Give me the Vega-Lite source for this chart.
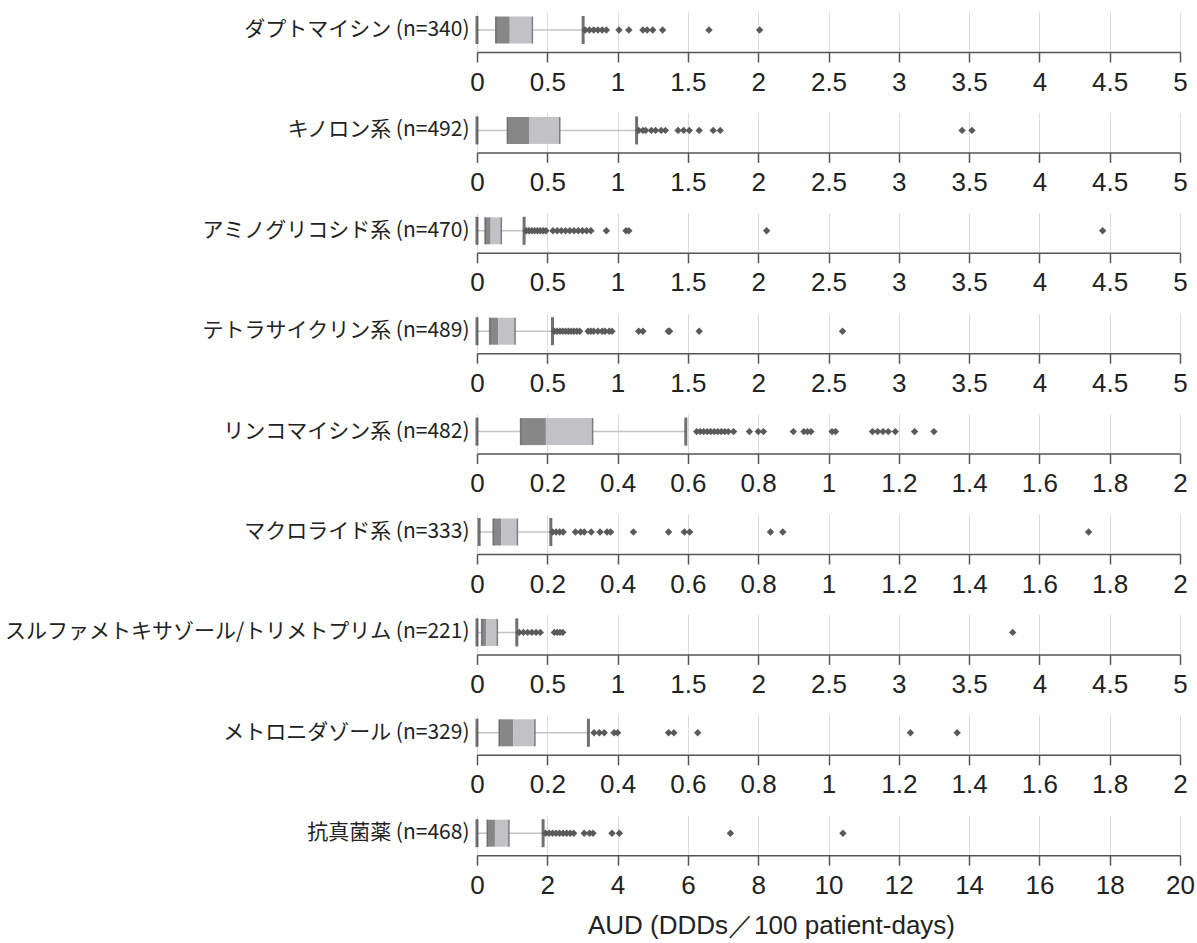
{
  "$schema": "https://vega.github.io/schema/vega-lite/v6.json",
  "background": "white",
  "padding": {"left": 4, "top": 12, "right": 10, "bottom": 5},
  "spacing": 17.4,
  "datasets": {
    "boxes": [
      {"panel": 1, "label": "ダプトマイシン (n=340)", "min": 0, "q1": 0.133, "median": 0.233, "q3": 0.394, "max": 0.755},
      {"panel": 2, "label": "キノロン系 (n=492)", "min": 0, "q1": 0.216, "median": 0.37, "q3": 0.589, "max": 1.135},
      {"panel": 3, "label": "アミノグリコシド系 (n=470)", "min": 0, "q1": 0.057, "median": 0.097, "q3": 0.173, "max": 0.335},
      {"panel": 4, "label": "テトラサイクリン系 (n=489)", "min": 0, "q1": 0.09, "median": 0.152, "q3": 0.271, "max": 0.537},
      {"panel": 5, "label": "リンコマイシン系 (n=482)", "min": 0, "q1": 0.124, "median": 0.196, "q3": 0.329, "max": 0.594},
      {"panel": 6, "label": "マクロライド系 (n=333)", "min": 0.006, "q1": 0.046, "median": 0.069, "q3": 0.115, "max": 0.21},
      {"panel": 7, "label": "スルファメトキサゾール/トリメトプリム (n=221)", "min": 0, "q1": 0.033, "median": 0.066, "q3": 0.145, "max": 0.283},
      {"panel": 8, "label": "メトロニダゾール (n=329)", "min": 0, "q1": 0.063, "median": 0.103, "q3": 0.165, "max": 0.317},
      {"panel": 9, "label": "抗真菌薬 (n=468)", "min": 0, "q1": 0.29, "median": 0.51, "q3": 0.91, "max": 1.88}
    ],
    "outliers": [
      {"panel": 1, "value": 0.77}, {"panel": 1, "value": 0.8}, {"panel": 1, "value": 0.83}, {"panel": 1, "value": 0.86}, {"panel": 1, "value": 0.89}, {"panel": 1, "value": 0.92}, {"panel": 1, "value": 1.01}, {"panel": 1, "value": 1.08}, {"panel": 1, "value": 1.18}, {"panel": 1, "value": 1.21}, {"panel": 1, "value": 1.25}, {"panel": 1, "value": 1.32}, {"panel": 1, "value": 1.65}, {"panel": 1, "value": 2.01},
      {"panel": 2, "value": 1.15}, {"panel": 2, "value": 1.18}, {"panel": 2, "value": 1.2}, {"panel": 2, "value": 1.24}, {"panel": 2, "value": 1.27}, {"panel": 2, "value": 1.31}, {"panel": 2, "value": 1.34}, {"panel": 2, "value": 1.43}, {"panel": 2, "value": 1.47}, {"panel": 2, "value": 1.51}, {"panel": 2, "value": 1.58}, {"panel": 2, "value": 1.68}, {"panel": 2, "value": 1.73}, {"panel": 2, "value": 3.45}, {"panel": 2, "value": 3.52},
      {"panel": 3, "value": 0.35}, {"panel": 3, "value": 0.37}, {"panel": 3, "value": 0.39}, {"panel": 3, "value": 0.41}, {"panel": 3, "value": 0.43}, {"panel": 3, "value": 0.45}, {"panel": 3, "value": 0.47}, {"panel": 3, "value": 0.49}, {"panel": 3, "value": 0.54}, {"panel": 3, "value": 0.57}, {"panel": 3, "value": 0.6}, {"panel": 3, "value": 0.63}, {"panel": 3, "value": 0.66}, {"panel": 3, "value": 0.69}, {"panel": 3, "value": 0.72}, {"panel": 3, "value": 0.75}, {"panel": 3, "value": 0.78}, {"panel": 3, "value": 0.81}, {"panel": 3, "value": 0.92}, {"panel": 3, "value": 1.06}, {"panel": 3, "value": 1.08}, {"panel": 3, "value": 2.06}, {"panel": 3, "value": 4.45},
      {"panel": 4, "value": 0.55}, {"panel": 4, "value": 0.57}, {"panel": 4, "value": 0.59}, {"panel": 4, "value": 0.61}, {"panel": 4, "value": 0.63}, {"panel": 4, "value": 0.65}, {"panel": 4, "value": 0.67}, {"panel": 4, "value": 0.69}, {"panel": 4, "value": 0.71}, {"panel": 4, "value": 0.73}, {"panel": 4, "value": 0.79}, {"panel": 4, "value": 0.81}, {"panel": 4, "value": 0.83}, {"panel": 4, "value": 0.86}, {"panel": 4, "value": 0.89}, {"panel": 4, "value": 0.91}, {"panel": 4, "value": 0.94}, {"panel": 4, "value": 0.96}, {"panel": 4, "value": 1.15}, {"panel": 4, "value": 1.18}, {"panel": 4, "value": 1.36}, {"panel": 4, "value": 1.37}, {"panel": 4, "value": 1.58}, {"panel": 4, "value": 2.6},
      {"panel": 5, "value": 0.625}, {"panel": 5, "value": 0.635}, {"panel": 5, "value": 0.645}, {"panel": 5, "value": 0.655}, {"panel": 5, "value": 0.665}, {"panel": 5, "value": 0.675}, {"panel": 5, "value": 0.685}, {"panel": 5, "value": 0.695}, {"panel": 5, "value": 0.705}, {"panel": 5, "value": 0.715}, {"panel": 5, "value": 0.73}, {"panel": 5, "value": 0.775}, {"panel": 5, "value": 0.8}, {"panel": 5, "value": 0.815}, {"panel": 5, "value": 0.9}, {"panel": 5, "value": 0.93}, {"panel": 5, "value": 0.94}, {"panel": 5, "value": 0.95}, {"panel": 5, "value": 1.01}, {"panel": 5, "value": 1.02}, {"panel": 5, "value": 1.125}, {"panel": 5, "value": 1.14}, {"panel": 5, "value": 1.155}, {"panel": 5, "value": 1.17}, {"panel": 5, "value": 1.19}, {"panel": 5, "value": 1.245}, {"panel": 5, "value": 1.3},
      {"panel": 6, "value": 0.215}, {"panel": 6, "value": 0.225}, {"panel": 6, "value": 0.235}, {"panel": 6, "value": 0.245}, {"panel": 6, "value": 0.28}, {"panel": 6, "value": 0.295}, {"panel": 6, "value": 0.305}, {"panel": 6, "value": 0.325}, {"panel": 6, "value": 0.35}, {"panel": 6, "value": 0.37}, {"panel": 6, "value": 0.38}, {"panel": 6, "value": 0.445}, {"panel": 6, "value": 0.545}, {"panel": 6, "value": 0.59}, {"panel": 6, "value": 0.605}, {"panel": 6, "value": 0.835}, {"panel": 6, "value": 0.87}, {"panel": 6, "value": 1.74},
      {"panel": 7, "value": 0.3}, {"panel": 7, "value": 0.33}, {"panel": 7, "value": 0.36}, {"panel": 7, "value": 0.39}, {"panel": 7, "value": 0.42}, {"panel": 7, "value": 0.45}, {"panel": 7, "value": 0.55}, {"panel": 7, "value": 0.57}, {"panel": 7, "value": 0.59}, {"panel": 7, "value": 0.61}, {"panel": 7, "value": 3.81},
      {"panel": 8, "value": 0.333}, {"panel": 8, "value": 0.348}, {"panel": 8, "value": 0.362}, {"panel": 8, "value": 0.39}, {"panel": 8, "value": 0.4}, {"panel": 8, "value": 0.545}, {"panel": 8, "value": 0.56}, {"panel": 8, "value": 0.628}, {"panel": 8, "value": 1.233}, {"panel": 8, "value": 1.366},
      {"panel": 9, "value": 1.95}, {"panel": 9, "value": 2.05}, {"panel": 9, "value": 2.15}, {"panel": 9, "value": 2.25}, {"panel": 9, "value": 2.35}, {"panel": 9, "value": 2.45}, {"panel": 9, "value": 2.55}, {"panel": 9, "value": 2.65}, {"panel": 9, "value": 2.75}, {"panel": 9, "value": 3.05}, {"panel": 9, "value": 3.2}, {"panel": 9, "value": 3.3}, {"panel": 9, "value": 3.84}, {"panel": 9, "value": 4.05}, {"panel": 9, "value": 7.21}, {"panel": 9, "value": 10.41}
    ]
  },
  "vconcat": [
    {"width": 703, "height": 40, "layer": [
      {"data": {"name": "boxes"}, "transform": [{"filter": "datum.panel == 1"}], "layer": [
        {"mark": {"type": "rule", "color": "#c4c4c4", "strokeWidth": 1.5}, "encoding": {"x": {"field": "min", "type": "quantitative", "scale": {"domain": [0, 5], "nice": false}, "title": null}, "x2": {"field": "max"}, "y": {"field": "label", "type": "nominal", "title": null, "scale": {"paddingInner": 0, "paddingOuter": 0.5, "align": 0.4}}}},
        {"mark": {"type": "bar", "color": "#878787", "size": 27}, "encoding": {"x": {"field": "q1", "type": "quantitative", "title": null}, "x2": {"field": "median"}, "y": {"field": "label", "type": "nominal", "title": null}}},
        {"mark": {"type": "bar", "color": "#c2c2c6", "size": 27}, "encoding": {"x": {"field": "median", "type": "quantitative", "title": null}, "x2": {"field": "q3"}, "y": {"field": "label", "type": "nominal", "title": null}}},
        {"transform": [{"fold": ["q1", "q3"], "as": ["stat", "v"]}], "mark": {"type": "tick", "color": "#555555", "thickness": 1.5, "size": 27}, "encoding": {"x": {"field": "v", "type": "quantitative", "title": null}, "y": {"field": "label", "type": "nominal", "title": null}}},
        {"transform": [{"fold": ["min", "max"], "as": ["stat", "v"]}], "mark": {"type": "tick", "color": "#333333", "thickness": 3, "size": 28}, "encoding": {"x": {"field": "v", "type": "quantitative", "title": null}, "y": {"field": "label", "type": "nominal", "title": null}}}
      ]},
      {"data": {"name": "outliers"}, "transform": [{"filter": "datum.panel == 1"}, {"lookup": "panel", "from": {"data": {"name": "boxes"}, "key": "panel", "fields": ["label"]}}], "mark": {"type": "point", "shape": "diamond", "filled": true, "color": "#5a5a5a", "size": 55, "opacity": 1}, "encoding": {"x": {"field": "value", "type": "quantitative", "title": null}, "y": {"field": "label", "type": "nominal", "title": null}}}
    ]},
    {"width": 703, "height": 40, "layer": [
      {"data": {"name": "boxes"}, "transform": [{"filter": "datum.panel == 2"}], "layer": [
        {"mark": {"type": "rule", "color": "#c4c4c4", "strokeWidth": 1.5}, "encoding": {"x": {"field": "min", "type": "quantitative", "scale": {"domain": [0, 5], "nice": false}, "title": null}, "x2": {"field": "max"}, "y": {"field": "label", "type": "nominal", "title": null, "scale": {"paddingInner": 0, "paddingOuter": 0.5, "align": 0.4}}}},
        {"mark": {"type": "bar", "color": "#878787", "size": 27}, "encoding": {"x": {"field": "q1", "type": "quantitative", "title": null}, "x2": {"field": "median"}, "y": {"field": "label", "type": "nominal", "title": null}}},
        {"mark": {"type": "bar", "color": "#c2c2c6", "size": 27}, "encoding": {"x": {"field": "median", "type": "quantitative", "title": null}, "x2": {"field": "q3"}, "y": {"field": "label", "type": "nominal", "title": null}}},
        {"transform": [{"fold": ["q1", "q3"], "as": ["stat", "v"]}], "mark": {"type": "tick", "color": "#555555", "thickness": 1.5, "size": 27}, "encoding": {"x": {"field": "v", "type": "quantitative", "title": null}, "y": {"field": "label", "type": "nominal", "title": null}}},
        {"transform": [{"fold": ["min", "max"], "as": ["stat", "v"]}], "mark": {"type": "tick", "color": "#333333", "thickness": 3, "size": 28}, "encoding": {"x": {"field": "v", "type": "quantitative", "title": null}, "y": {"field": "label", "type": "nominal", "title": null}}}
      ]},
      {"data": {"name": "outliers"}, "transform": [{"filter": "datum.panel == 2"}, {"lookup": "panel", "from": {"data": {"name": "boxes"}, "key": "panel", "fields": ["label"]}}], "mark": {"type": "point", "shape": "diamond", "filled": true, "color": "#5a5a5a", "size": 55, "opacity": 1}, "encoding": {"x": {"field": "value", "type": "quantitative", "title": null}, "y": {"field": "label", "type": "nominal", "title": null}}}
    ]},
    {"width": 703, "height": 40, "layer": [
      {"data": {"name": "boxes"}, "transform": [{"filter": "datum.panel == 3"}], "layer": [
        {"mark": {"type": "rule", "color": "#c4c4c4", "strokeWidth": 1.5}, "encoding": {"x": {"field": "min", "type": "quantitative", "scale": {"domain": [0, 5], "nice": false}, "title": null}, "x2": {"field": "max"}, "y": {"field": "label", "type": "nominal", "title": null, "scale": {"paddingInner": 0, "paddingOuter": 0.5, "align": 0.4}}}},
        {"mark": {"type": "bar", "color": "#878787", "size": 27}, "encoding": {"x": {"field": "q1", "type": "quantitative", "title": null}, "x2": {"field": "median"}, "y": {"field": "label", "type": "nominal", "title": null}}},
        {"mark": {"type": "bar", "color": "#c2c2c6", "size": 27}, "encoding": {"x": {"field": "median", "type": "quantitative", "title": null}, "x2": {"field": "q3"}, "y": {"field": "label", "type": "nominal", "title": null}}},
        {"transform": [{"fold": ["q1", "q3"], "as": ["stat", "v"]}], "mark": {"type": "tick", "color": "#555555", "thickness": 1.5, "size": 27}, "encoding": {"x": {"field": "v", "type": "quantitative", "title": null}, "y": {"field": "label", "type": "nominal", "title": null}}},
        {"transform": [{"fold": ["min", "max"], "as": ["stat", "v"]}], "mark": {"type": "tick", "color": "#333333", "thickness": 3, "size": 28}, "encoding": {"x": {"field": "v", "type": "quantitative", "title": null}, "y": {"field": "label", "type": "nominal", "title": null}}}
      ]},
      {"data": {"name": "outliers"}, "transform": [{"filter": "datum.panel == 3"}, {"lookup": "panel", "from": {"data": {"name": "boxes"}, "key": "panel", "fields": ["label"]}}], "mark": {"type": "point", "shape": "diamond", "filled": true, "color": "#5a5a5a", "size": 55, "opacity": 1}, "encoding": {"x": {"field": "value", "type": "quantitative", "title": null}, "y": {"field": "label", "type": "nominal", "title": null}}}
    ]},
    {"width": 703, "height": 40, "layer": [
      {"data": {"name": "boxes"}, "transform": [{"filter": "datum.panel == 4"}], "layer": [
        {"mark": {"type": "rule", "color": "#c4c4c4", "strokeWidth": 1.5}, "encoding": {"x": {"field": "min", "type": "quantitative", "scale": {"domain": [0, 5], "nice": false}, "title": null}, "x2": {"field": "max"}, "y": {"field": "label", "type": "nominal", "title": null, "scale": {"paddingInner": 0, "paddingOuter": 0.5, "align": 0.4}}}},
        {"mark": {"type": "bar", "color": "#878787", "size": 27}, "encoding": {"x": {"field": "q1", "type": "quantitative", "title": null}, "x2": {"field": "median"}, "y": {"field": "label", "type": "nominal", "title": null}}},
        {"mark": {"type": "bar", "color": "#c2c2c6", "size": 27}, "encoding": {"x": {"field": "median", "type": "quantitative", "title": null}, "x2": {"field": "q3"}, "y": {"field": "label", "type": "nominal", "title": null}}},
        {"transform": [{"fold": ["q1", "q3"], "as": ["stat", "v"]}], "mark": {"type": "tick", "color": "#555555", "thickness": 1.5, "size": 27}, "encoding": {"x": {"field": "v", "type": "quantitative", "title": null}, "y": {"field": "label", "type": "nominal", "title": null}}},
        {"transform": [{"fold": ["min", "max"], "as": ["stat", "v"]}], "mark": {"type": "tick", "color": "#333333", "thickness": 3, "size": 28}, "encoding": {"x": {"field": "v", "type": "quantitative", "title": null}, "y": {"field": "label", "type": "nominal", "title": null}}}
      ]},
      {"data": {"name": "outliers"}, "transform": [{"filter": "datum.panel == 4"}, {"lookup": "panel", "from": {"data": {"name": "boxes"}, "key": "panel", "fields": ["label"]}}], "mark": {"type": "point", "shape": "diamond", "filled": true, "color": "#5a5a5a", "size": 55, "opacity": 1}, "encoding": {"x": {"field": "value", "type": "quantitative", "title": null}, "y": {"field": "label", "type": "nominal", "title": null}}}
    ]},
    {"width": 703, "height": 40, "layer": [
      {"data": {"name": "boxes"}, "transform": [{"filter": "datum.panel == 5"}], "layer": [
        {"mark": {"type": "rule", "color": "#c4c4c4", "strokeWidth": 1.5}, "encoding": {"x": {"field": "min", "type": "quantitative", "scale": {"domain": [0, 2], "nice": false}, "title": null}, "x2": {"field": "max"}, "y": {"field": "label", "type": "nominal", "title": null, "scale": {"paddingInner": 0, "paddingOuter": 0.5, "align": 0.4}}}},
        {"mark": {"type": "bar", "color": "#878787", "size": 27}, "encoding": {"x": {"field": "q1", "type": "quantitative", "title": null}, "x2": {"field": "median"}, "y": {"field": "label", "type": "nominal", "title": null}}},
        {"mark": {"type": "bar", "color": "#c2c2c6", "size": 27}, "encoding": {"x": {"field": "median", "type": "quantitative", "title": null}, "x2": {"field": "q3"}, "y": {"field": "label", "type": "nominal", "title": null}}},
        {"transform": [{"fold": ["q1", "q3"], "as": ["stat", "v"]}], "mark": {"type": "tick", "color": "#555555", "thickness": 1.5, "size": 27}, "encoding": {"x": {"field": "v", "type": "quantitative", "title": null}, "y": {"field": "label", "type": "nominal", "title": null}}},
        {"transform": [{"fold": ["min", "max"], "as": ["stat", "v"]}], "mark": {"type": "tick", "color": "#333333", "thickness": 3, "size": 28}, "encoding": {"x": {"field": "v", "type": "quantitative", "title": null}, "y": {"field": "label", "type": "nominal", "title": null}}}
      ]},
      {"data": {"name": "outliers"}, "transform": [{"filter": "datum.panel == 5"}, {"lookup": "panel", "from": {"data": {"name": "boxes"}, "key": "panel", "fields": ["label"]}}], "mark": {"type": "point", "shape": "diamond", "filled": true, "color": "#5a5a5a", "size": 55, "opacity": 1}, "encoding": {"x": {"field": "value", "type": "quantitative", "title": null}, "y": {"field": "label", "type": "nominal", "title": null}}}
    ]},
    {"width": 703, "height": 40, "layer": [
      {"data": {"name": "boxes"}, "transform": [{"filter": "datum.panel == 6"}], "layer": [
        {"mark": {"type": "rule", "color": "#c4c4c4", "strokeWidth": 1.5}, "encoding": {"x": {"field": "min", "type": "quantitative", "scale": {"domain": [0, 2], "nice": false}, "title": null}, "x2": {"field": "max"}, "y": {"field": "label", "type": "nominal", "title": null, "scale": {"paddingInner": 0, "paddingOuter": 0.5, "align": 0.4}}}},
        {"mark": {"type": "bar", "color": "#878787", "size": 27}, "encoding": {"x": {"field": "q1", "type": "quantitative", "title": null}, "x2": {"field": "median"}, "y": {"field": "label", "type": "nominal", "title": null}}},
        {"mark": {"type": "bar", "color": "#c2c2c6", "size": 27}, "encoding": {"x": {"field": "median", "type": "quantitative", "title": null}, "x2": {"field": "q3"}, "y": {"field": "label", "type": "nominal", "title": null}}},
        {"transform": [{"fold": ["q1", "q3"], "as": ["stat", "v"]}], "mark": {"type": "tick", "color": "#555555", "thickness": 1.5, "size": 27}, "encoding": {"x": {"field": "v", "type": "quantitative", "title": null}, "y": {"field": "label", "type": "nominal", "title": null}}},
        {"transform": [{"fold": ["min", "max"], "as": ["stat", "v"]}], "mark": {"type": "tick", "color": "#333333", "thickness": 3, "size": 28}, "encoding": {"x": {"field": "v", "type": "quantitative", "title": null}, "y": {"field": "label", "type": "nominal", "title": null}}}
      ]},
      {"data": {"name": "outliers"}, "transform": [{"filter": "datum.panel == 6"}, {"lookup": "panel", "from": {"data": {"name": "boxes"}, "key": "panel", "fields": ["label"]}}], "mark": {"type": "point", "shape": "diamond", "filled": true, "color": "#5a5a5a", "size": 55, "opacity": 1}, "encoding": {"x": {"field": "value", "type": "quantitative", "title": null}, "y": {"field": "label", "type": "nominal", "title": null}}}
    ]},
    {"width": 703, "height": 40, "layer": [
      {"data": {"name": "boxes"}, "transform": [{"filter": "datum.panel == 7"}], "layer": [
        {"mark": {"type": "rule", "color": "#c4c4c4", "strokeWidth": 1.5}, "encoding": {"x": {"field": "min", "type": "quantitative", "scale": {"domain": [0, 5], "nice": false}, "title": null}, "x2": {"field": "max"}, "y": {"field": "label", "type": "nominal", "title": null, "scale": {"paddingInner": 0, "paddingOuter": 0.5, "align": 0.4}}}},
        {"mark": {"type": "bar", "color": "#878787", "size": 27}, "encoding": {"x": {"field": "q1", "type": "quantitative", "title": null}, "x2": {"field": "median"}, "y": {"field": "label", "type": "nominal", "title": null}}},
        {"mark": {"type": "bar", "color": "#c2c2c6", "size": 27}, "encoding": {"x": {"field": "median", "type": "quantitative", "title": null}, "x2": {"field": "q3"}, "y": {"field": "label", "type": "nominal", "title": null}}},
        {"transform": [{"fold": ["q1", "q3"], "as": ["stat", "v"]}], "mark": {"type": "tick", "color": "#555555", "thickness": 1.5, "size": 27}, "encoding": {"x": {"field": "v", "type": "quantitative", "title": null}, "y": {"field": "label", "type": "nominal", "title": null}}},
        {"transform": [{"fold": ["min", "max"], "as": ["stat", "v"]}], "mark": {"type": "tick", "color": "#333333", "thickness": 3, "size": 28}, "encoding": {"x": {"field": "v", "type": "quantitative", "title": null}, "y": {"field": "label", "type": "nominal", "title": null}}}
      ]},
      {"data": {"name": "outliers"}, "transform": [{"filter": "datum.panel == 7"}, {"lookup": "panel", "from": {"data": {"name": "boxes"}, "key": "panel", "fields": ["label"]}}], "mark": {"type": "point", "shape": "diamond", "filled": true, "color": "#5a5a5a", "size": 55, "opacity": 1}, "encoding": {"x": {"field": "value", "type": "quantitative", "title": null}, "y": {"field": "label", "type": "nominal", "title": null}}}
    ]},
    {"width": 703, "height": 40, "layer": [
      {"data": {"name": "boxes"}, "transform": [{"filter": "datum.panel == 8"}], "layer": [
        {"mark": {"type": "rule", "color": "#c4c4c4", "strokeWidth": 1.5}, "encoding": {"x": {"field": "min", "type": "quantitative", "scale": {"domain": [0, 2], "nice": false}, "title": null}, "x2": {"field": "max"}, "y": {"field": "label", "type": "nominal", "title": null, "scale": {"paddingInner": 0, "paddingOuter": 0.5, "align": 0.4}}}},
        {"mark": {"type": "bar", "color": "#878787", "size": 27}, "encoding": {"x": {"field": "q1", "type": "quantitative", "title": null}, "x2": {"field": "median"}, "y": {"field": "label", "type": "nominal", "title": null}}},
        {"mark": {"type": "bar", "color": "#c2c2c6", "size": 27}, "encoding": {"x": {"field": "median", "type": "quantitative", "title": null}, "x2": {"field": "q3"}, "y": {"field": "label", "type": "nominal", "title": null}}},
        {"transform": [{"fold": ["q1", "q3"], "as": ["stat", "v"]}], "mark": {"type": "tick", "color": "#555555", "thickness": 1.5, "size": 27}, "encoding": {"x": {"field": "v", "type": "quantitative", "title": null}, "y": {"field": "label", "type": "nominal", "title": null}}},
        {"transform": [{"fold": ["min", "max"], "as": ["stat", "v"]}], "mark": {"type": "tick", "color": "#333333", "thickness": 3, "size": 28}, "encoding": {"x": {"field": "v", "type": "quantitative", "title": null}, "y": {"field": "label", "type": "nominal", "title": null}}}
      ]},
      {"data": {"name": "outliers"}, "transform": [{"filter": "datum.panel == 8"}, {"lookup": "panel", "from": {"data": {"name": "boxes"}, "key": "panel", "fields": ["label"]}}], "mark": {"type": "point", "shape": "diamond", "filled": true, "color": "#5a5a5a", "size": 55, "opacity": 1}, "encoding": {"x": {"field": "value", "type": "quantitative", "title": null}, "y": {"field": "label", "type": "nominal", "title": null}}}
    ]},
    {"width": 703, "height": 40, "layer": [
      {"data": {"name": "boxes"}, "transform": [{"filter": "datum.panel == 9"}], "layer": [
        {"mark": {"type": "rule", "color": "#c4c4c4", "strokeWidth": 1.5}, "encoding": {"x": {"field": "min", "type": "quantitative", "scale": {"domain": [0, 20], "nice": false}, "title": "AUD (DDDs／100 patient-days)", "axis": {"titleX": 294}}, "x2": {"field": "max"}, "y": {"field": "label", "type": "nominal", "title": null, "scale": {"paddingInner": 0, "paddingOuter": 0.5, "align": 0.4}}}},
        {"mark": {"type": "bar", "color": "#878787", "size": 27}, "encoding": {"x": {"field": "q1", "type": "quantitative", "title": "AUD (DDDs／100 patient-days)"}, "x2": {"field": "median"}, "y": {"field": "label", "type": "nominal", "title": null}}},
        {"mark": {"type": "bar", "color": "#c2c2c6", "size": 27}, "encoding": {"x": {"field": "median", "type": "quantitative", "title": "AUD (DDDs／100 patient-days)"}, "x2": {"field": "q3"}, "y": {"field": "label", "type": "nominal", "title": null}}},
        {"transform": [{"fold": ["q1", "q3"], "as": ["stat", "v"]}], "mark": {"type": "tick", "color": "#555555", "thickness": 1.5, "size": 27}, "encoding": {"x": {"field": "v", "type": "quantitative", "title": "AUD (DDDs／100 patient-days)"}, "y": {"field": "label", "type": "nominal", "title": null}}},
        {"transform": [{"fold": ["min", "max"], "as": ["stat", "v"]}], "mark": {"type": "tick", "color": "#333333", "thickness": 3, "size": 28}, "encoding": {"x": {"field": "v", "type": "quantitative", "title": "AUD (DDDs／100 patient-days)"}, "y": {"field": "label", "type": "nominal", "title": null}}}
      ]},
      {"data": {"name": "outliers"}, "transform": [{"filter": "datum.panel == 9"}, {"lookup": "panel", "from": {"data": {"name": "boxes"}, "key": "panel", "fields": ["label"]}}], "mark": {"type": "point", "shape": "diamond", "filled": true, "color": "#5a5a5a", "size": 55, "opacity": 1}, "encoding": {"x": {"field": "value", "type": "quantitative", "title": "AUD (DDDs／100 patient-days)"}, "y": {"field": "label", "type": "nominal", "title": null}}}
    ]}
  ],
  "config": {
    "view": {"stroke": null},
    "axisX": {"tickCount": 10, "format": "~g", "labelFontSize": 26, "labelFont": "Liberation Sans", "labelColor": "#222222", "domainColor": "#555555", "domainWidth": 1.5, "tickColor": "#555555", "tickWidth": 1.5, "tickSize": 10, "labelPadding": 7, "grid": true, "gridColor": "#dddddd", "gridWidth": 1, "labelFlush": false, "labelOverlap": false, "titleFontSize": 26, "titleFont": "Liberation Sans", "titleFontWeight": "normal", "titleColor": "#222222", "titlePadding": 14},
    "axisY": {"domain": false, "ticks": false, "grid": false, "labelFontSize": 21, "labelFont": "Noto Sans CJK JP", "labelColor": "#222222", "labelPadding": 8, "labelLimit": 600}
  }
}
